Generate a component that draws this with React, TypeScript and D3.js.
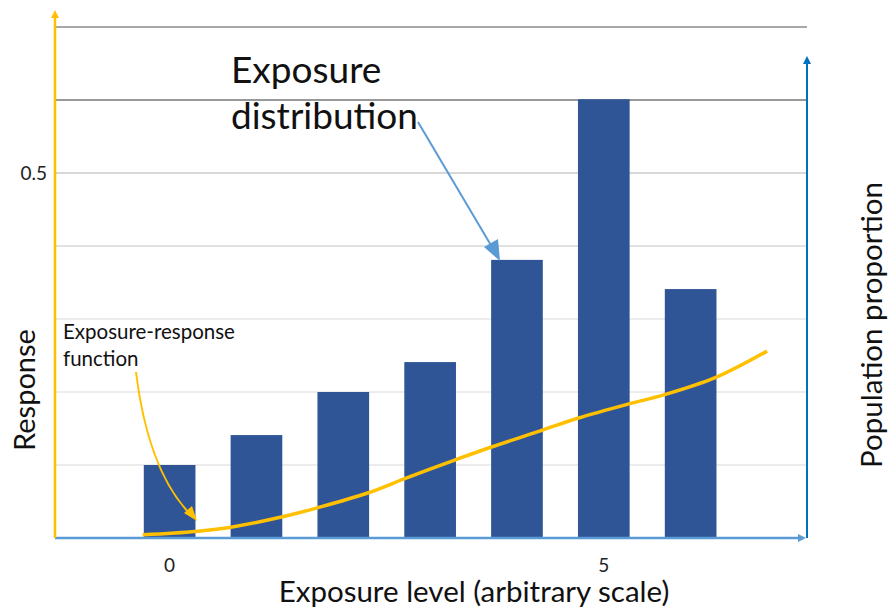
import React from "react";
import * as d3 from "d3";

const categories = [0, 1, 2, 3, 4, 5, 6];
const barValues = [0.1, 0.141, 0.2, 0.241, 0.381, 0.601, 0.341];
const curveX = [-0.31, 0.3, 0.69, 1.3, 1.69, 2.29, 2.7, 3.29, 3.69, 4.3, 4.7, 5.3, 5.69, 6.29, 6.88];
const curveY = [0.0045, 0.009, 0.0145, 0.029, 0.041, 0.062, 0.081, 0.107, 0.124, 0.148, 0.164, 0.184, 0.196, 0.22, 0.256];
const gridValues = [0.1, 0.2, 0.3, 0.4, 0.5, 0.6, 0.7];
const gridColors = ["#d9d9d9", "#d9d9d9", "#d9d9d9", "#c4c4c4", "#b0b0b0", "#999999", "#8a8a8a"];
const gridWidths = [1, 1, 1, 1, 1, 2, 1.3];
const yTickValues = [0.5];
const xTickValues = [0, 5];

const W = 888;
const H = 608;
const FONT = "Lato, 'Open Sans', sans-serif";

export default function App() {
  const x = d3.scaleLinear().domain([-1.32, 7.34]).range([55, 807]);
  const y = d3.scaleLinear().domain([0, 0.72]).range([538, 538 - 0.72 * 730]);
  const barW = x(0.595) - x(0);
  const line = d3
    .line<number>()
    .x((_, i) => x(curveX[i]))
    .y((d) => y(d))
    .curve(d3.curveCatmullRom.alpha(0.5));

  const x0 = x.range()[0];
  const x1 = x.range()[1];
  const y0 = y(0);

  return (
    <svg width={W} height={H} style={{ position: "absolute", left: 0, top: 0, background: "#fff" }} fontFamily={FONT}>
      {gridValues.map((g, i) => (
        <line key={g} x1={x0} x2={x1} y1={y(g)} y2={y(g)} stroke={gridColors[i]} strokeWidth={gridWidths[i]} />
      ))}
      {categories.map((c, i) => (
        <rect key={c} x={x(c) - barW / 2} y={y(barValues[i])} width={barW} height={y0 - y(barValues[i])} fill="#2f5597" />
      ))}
      {/* x axis */}
      <line x1={x0} x2={x1 - 6} y1={y0} y2={y0} stroke="#5b9bd5" strokeWidth={2.5} />
      <path d={`M${x1 - 1},${y0} L${x1 - 9},${y0 - 4} L${x1 - 9},${y0 + 4} Z`} fill="#5b9bd5" />
      {/* right axis */}
      <line x1={x1} x2={x1} y1={y0} y2={63} stroke="#0070c0" strokeWidth={2} />
      <path d={`M${x1},56 L${x1 - 4},64 L${x1 + 4},64 Z`} fill="#0070c0" />
      {/* left axis */}
      <line x1={x0} x2={x0} y1={y0} y2={16} stroke="#ffc000" strokeWidth={2.5} />
      <path d={`M${x0},10 L${x0 - 4},18 L${x0 + 4},18 Z`} fill="#ffc000" />
      {/* curve */}
      <path d={line(curveY) || ""} fill="none" stroke="#ffc000" strokeWidth={3.5} strokeLinecap="butt" />
      {/* tick labels */}
      {yTickValues.map((t) => (
        <text key={t} x={47} y={y(t)} dy="0.35em" textAnchor="end" fontSize={19} fill="#222">
          {t}
        </text>
      ))}
      {xTickValues.map((t) => (
        <text key={t} x={x(t)} y={565} dy="0.35em" textAnchor="middle" fontSize={19} fill="#222">
          {t}
        </text>
      ))}
      {/* axis titles */}
      <text x={474} y={602} textAnchor="middle" fontSize={29.5} fill="#111">
        Exposure level (arbitrary scale)
      </text>
      <text transform="translate(35,390) rotate(-90)" textAnchor="middle" fontSize={29} fill="#111">
        Response
      </text>
      <text transform="translate(882,325) rotate(-90)" textAnchor="middle" fontSize={29.5} fill="#111">
        Population proportion
      </text>
      {/* annotations */}
      <text x={231} y={83} fontSize={37} fill="#111">Exposure</text>
      <text x={231} y={129} fontSize={37} fill="#111">distribution</text>
      <line x1={418} y1={122} x2={492} y2={247} stroke="#5b9bd5" strokeWidth={2} />
      <path d="M500,261 L484,247 L498,239 Z" fill="#5b9bd5" />
      <text x={63} y={339} fontSize={20.5} fill="#111">Exposure-response</text>
      <text x={63} y={366} fontSize={20.5} fill="#111">function</text>
      <path d="M136,372 Q148,470 190,514" fill="none" stroke="#ffc000" strokeWidth={2} />
      <path d="M197,521 L184,513 L192,506 Z" fill="#ffc000" />
    </svg>
  );
}
